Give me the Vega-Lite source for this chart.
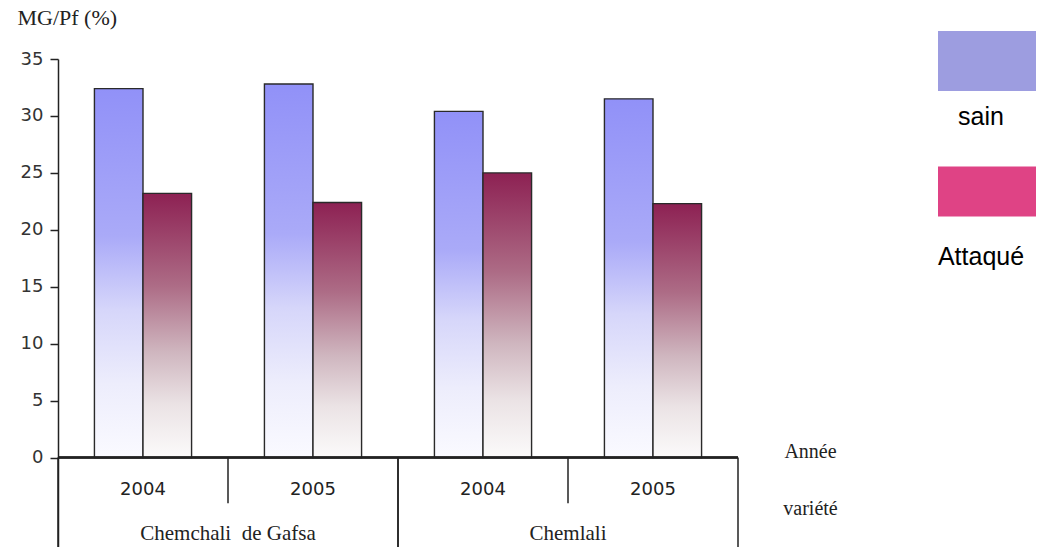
{
  "$schema": "https://vega.github.io/schema/vega-lite/v6.json",
  "width": 680,
  "height": 488,
  "autosize": {"type": "none"},
  "padding": {"left": 58, "top": 59, "right": 304, "bottom": 0},
  "background": "white",
  "config": {"view": {"stroke": null}},
  "data": {
    "values": [
      {"variete": "Chemchali\u00a0 de Gafsa", "annee": "2004", "groupe": "Chemchali de Gafsa 2004", "etat": "sain", "valeur": 32.4},
      {"variete": "Chemchali\u00a0 de Gafsa", "annee": "2004", "groupe": "Chemchali de Gafsa 2004", "etat": "Attaqué", "valeur": 23.2},
      {"variete": "Chemchali\u00a0 de Gafsa", "annee": "2005", "groupe": "Chemchali de Gafsa 2005", "etat": "sain", "valeur": 32.8},
      {"variete": "Chemchali\u00a0 de Gafsa", "annee": "2005", "groupe": "Chemchali de Gafsa 2005", "etat": "Attaqué", "valeur": 22.4},
      {"variete": "Chemlali", "annee": "2004", "groupe": "Chemlali 2004", "etat": "sain", "valeur": 30.4},
      {"variete": "Chemlali", "annee": "2004", "groupe": "Chemlali 2004", "etat": "Attaqué", "valeur": 25.0},
      {"variete": "Chemlali", "annee": "2005", "groupe": "Chemlali 2005", "etat": "sain", "valeur": 31.5},
      {"variete": "Chemlali", "annee": "2005", "groupe": "Chemlali 2005", "etat": "Attaqué", "valeur": 22.3}
    ]
  },
  "encoding": {
    "x": {
      "field": "groupe",
      "type": "nominal",
      "scale": {
        "domain": ["Chemchali de Gafsa 2004", "Chemchali de Gafsa 2005", "Chemlali 2004", "Chemlali 2005"],
        "paddingInner": 0,
        "paddingOuter": 0
      },
      "axis": {
        "labels": false,
        "ticks": false,
        "domain": false,
        "grid": false,
        "title": ["Année", "variété"],
        "titleFont": "Liberation Serif",
        "titleFontSize": 20,
        "titleFontWeight": "normal",
        "titleColor": "#222222",
        "titleAlign": "center",
        "titleBaseline": "alphabetic",
        "titleLineHeight": 57,
        "titleX": 752,
        "titleY": -89.5
      }
    }
  },
  "layer": [
    {
      "mark": {"type": "bar", "stroke": "#2a2a2a", "strokeWidth": 1.4},
      "encoding": {
        "xOffset": {
          "field": "etat",
          "type": "nominal",
          "scale": {"domain": ["sain", "Attaqué"], "paddingInner": 0, "paddingOuter": 0.75}
        },
        "y": {
          "field": "valeur",
          "type": "quantitative",
          "scale": {"domain": [-7.85, 35], "nice": false, "zero": false},
          "axis": {
            "values": [0, 5, 10, 15, 20, 25, 30, 35],
            "grid": false,
            "domainColor": "#222222",
            "domainWidth": 1.5,
            "tickColor": "#222222",
            "tickWidth": 1.5,
            "tickSize": 8,
            "labelFont": "DejaVu Sans",
            "labelFontSize": 18,
            "labelColor": "#333333",
            "labelPadding": 7,
            "title": "MG/Pf (%)",
            "titleFont": "Liberation Serif",
            "titleFontSize": 22,
            "titleFontWeight": "normal",
            "titleColor": "#222222",
            "titleAngle": 0,
            "titleAlign": "left",
            "titleBaseline": "alphabetic",
            "titleX": -41,
            "titleY": -34.5
          }
        },
        "y2": {"datum": 0},
        "fill": {
          "condition": {
            "test": "datum.etat === 'sain'",
            "value": {
              "gradient": "linear", "x1": 0, "y1": 0, "x2": 0, "y2": 1,
              "stops": [
                {"offset": 0, "color": "#9191f8"},
                {"offset": 0.4, "color": "#aaaaf8"},
                {"offset": 0.6, "color": "#d6d6fa"},
                {"offset": 0.8, "color": "#ededfc"},
                {"offset": 1, "color": "#fafaff"}
              ]
            }
          },
          "value": {
            "gradient": "linear", "x1": 0, "y1": 0, "x2": 0, "y2": 1,
            "stops": [
              {"offset": 0, "color": "#8d2153"},
              {"offset": 0.35, "color": "#ad6c86"},
              {"offset": 0.6, "color": "#cfb6bf"},
              {"offset": 0.8, "color": "#ebe3e5"},
              {"offset": 1, "color": "#fbfafa"}
            ]
          }
        }
      }
    },
    {
      "mark": {"type": "point", "filled": true, "opacity": 0},
      "encoding": {
        "xOffset": {"field": "etat", "type": "nominal"},
        "y": {"field": "valeur", "type": "quantitative"},
        "fill": {
          "field": "etat",
          "type": "nominal",
          "scale": {"domain": ["sain", "Attaqué"], "range": ["#9d9de0", "#df4385"]},
          "legend": {
            "orient": "none",
            "legendX": 880,
            "legendY": 8.7,
            "title": null,
            "direction": "vertical",
            "padding": 0,
            "symbolSize": 9604,
            "symbolStrokeWidth": 0,
            "symbolOpacity": 1,
            "labelFont": "Liberation Sans",
            "labelFontSize": 25,
            "labelColor": "#000000",
            "labelAlign": "center",
            "labelOffset": -55,
            "rowPadding": 36
          }
        },
        "shape": {
          "field": "etat",
          "type": "nominal",
          "scale": {
            "domain": ["sain", "Attaqué"],
            "range": ["M-1,-1.749H1V-0.524H-1Z", "M-1,-1.843H1V-0.822H-1Z"]
          },
          "legend": {
            "orient": "none",
            "legendX": 880,
            "legendY": 8.7,
            "title": null,
            "direction": "vertical",
            "padding": 0,
            "symbolSize": 9604,
            "symbolStrokeWidth": 0,
            "symbolOpacity": 1,
            "labelFont": "Liberation Sans",
            "labelFontSize": 25,
            "labelColor": "#000000",
            "labelAlign": "center",
            "labelOffset": -55,
            "rowPadding": 36
          }
        }
      }
    },
    {
      "mark": {"type": "rule", "stroke": "#222222", "strokeWidth": 1.5},
      "encoding": {"x": null, "y": {"datum": 0}}
    },
    {
      "transform": [{"filter": "datum.etat === 'sain' && datum.annee === '2004'"}],
      "mark": {"type": "rule", "stroke": "#222222", "strokeWidth": 1.5},
      "encoding": {
        "x": {"field": "groupe", "type": "nominal", "bandPosition": 0},
        "y": {"datum": 0},
        "y2": {"datum": -7.85}
      }
    },
    {
      "transform": [{"filter": "datum.etat === 'sain' && datum.annee === '2005'"}],
      "mark": {"type": "rule", "stroke": "#222222", "strokeWidth": 1.5},
      "encoding": {
        "x": {"field": "groupe", "type": "nominal", "bandPosition": 1},
        "y": {"datum": 0},
        "y2": {"datum": -7.85}
      }
    },
    {
      "transform": [{"filter": "datum.etat === 'sain' && datum.annee === '2005'"}],
      "mark": {"type": "rule", "stroke": "#222222", "strokeWidth": 1.5},
      "encoding": {
        "x": {"field": "groupe", "type": "nominal", "bandPosition": 0},
        "y": {"datum": 0},
        "y2": {"datum": -4}
      }
    },
    {
      "transform": [{"filter": "datum.etat === 'sain'"}],
      "mark": {"type": "text", "font": "DejaVu Sans", "fontSize": 18, "fill": "#222222", "align": "center", "baseline": "middle"},
      "encoding": {
        "y": {"datum": -2.85},
        "text": {"field": "annee"}
      }
    },
    {
      "transform": [{"filter": "datum.etat === 'sain' && datum.annee === '2004'"}],
      "mark": {"type": "text", "font": "Liberation Serif", "fontSize": 21, "fill": "#222222", "align": "center", "baseline": "middle"},
      "encoding": {
        "x": {"field": "groupe", "type": "nominal", "bandPosition": 1},
        "y": {"datum": -6.72},
        "text": {"field": "variete"}
      }
    }
  ]
}
